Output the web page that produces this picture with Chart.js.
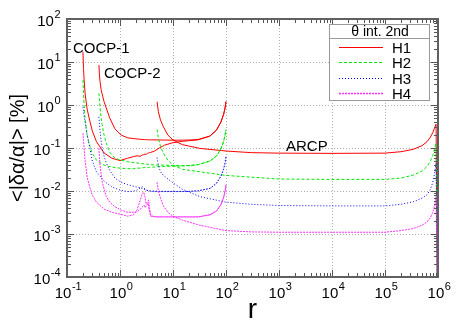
<!DOCTYPE html>
<html lang="en">
<head>
    <meta charset="UTF-8">
    <title>&lt;|δα/α|&gt; vs r</title>
    <script src="https://cdn.jsdelivr.net/npm/chart.js"></script>
    <style>
        html, body { margin: 0; padding: 0; background: #fff; }
        canvas { display: block; }
    </style>
</head>
<body>
    <canvas id="chartCanvas" width="467" height="327"></canvas>

    <script>
        // COCP-1 (starts at r = 0.2)
        const cocp1R  = [0.2, 0.205, 0.21, 0.22, 0.24, 0.27, 0.3, 0.36, 0.5, 0.7, 1.0, 1.4, 1.8, 2.1, 2.4, 2.65, 2.8, 2.95, 3.1, 3.3, 3.45, 3.6, 3.8, 4.5, 5.5, 7, 10, 15, 20, 30, 50, 66, 80, 90, 96, 100];
        const cocp1H1 = [17, 7, 4, 1.8, 0.8, 0.42, 0.25, 0.14, 0.077, 0.058, 0.051, 0.058, 0.063, 0.066, 0.064, 0.069, 0.07, 0.072, 0.071, 0.075, 0.077, 0.078, 0.079, 0.085, 0.1, 0.117, 0.133, 0.143, 0.148, 0.155, 0.19, 0.26, 0.4, 0.6, 0.85, 1.2];
        const cocp1H2 = [3.8, 1.8, 1.0, 0.45, 0.2, 0.11, 0.075, 0.052, 0.04, 0.036, 0.034, 0.033, 0.033, 0.034, 0.034, 0.035, 0.035, 0.035, 0.035, 0.035, 0.0355, 0.0355, 0.036, 0.036, 0.037, 0.037, 0.038, 0.038, 0.039, 0.041, 0.05, 0.065, 0.095, 0.14, 0.2, 0.27];
        const cocp1H3 = [0.91, 0.7, 0.55, 0.4, 0.2, 0.1, 0.05, 0.028, 0.017, 0.0125, 0.0105, 0.0097, 0.0099, 0.0105, 0.0118, 0.0125, 0.012, 0.0112, 0.0106, 0.0102, 0.0101, 0.01, 0.0099, 0.0098, 0.0097, 0.0097, 0.0097, 0.0097, 0.0098, 0.0101, 0.0115, 0.015, 0.022, 0.032, 0.045, 0.063];
        const cocp1H4 = [0.22, 0.15, 0.1, 0.05, 0.021, 0.012, 0.008, 0.0055, 0.0038, 0.0032, 0.0029, 0.0026, 0.0028, 0.0037, 0.006, 0.0089, 0.0095, 0.0075, 0.005, 0.0055, 0.0062, 0.004, 0.0027, 0.0025, 0.0025, 0.0025, 0.0025, 0.0025, 0.0025, 0.0025, 0.0028, 0.0034, 0.0048, 0.007, 0.01, 0.014];

        // COCP-2 (starts at r = 0.4)
        const cocp2R  = [0.4, 0.41, 0.42, 0.44, 0.46, 0.5, 0.55, 0.64, 0.8, 1.05, 1.4, 2, 2.4, 2.6, 2.85, 3.0, 3.2, 3.4, 3.55, 3.8, 5, 7, 10, 15, 20, 30, 50, 66, 80, 90, 96, 100];
        const cocp2H1 = [8.5, 5, 3.5, 2.3, 1.8, 1.2, 0.85, 0.5, 0.28, 0.2, 0.172, 0.163, 0.16, 0.158, 0.157, 0.156, 0.156, 0.155, 0.155, 0.155, 0.154, 0.153, 0.152, 0.152, 0.153, 0.158, 0.19, 0.26, 0.4, 0.6, 0.85, 1.2];
        const cocp2H2 = [1.87, 1.3, 0.9, 0.5, 0.35, 0.2, 0.13, 0.08, 0.058, 0.052, 0.048, 0.045, 0.044, 0.043, 0.043, 0.042, 0.042, 0.042, 0.041, 0.041, 0.04, 0.04, 0.039, 0.039, 0.039, 0.041, 0.05, 0.065, 0.095, 0.14, 0.2, 0.27];
        const cocp2H3 = [0.53, 0.35, 0.25, 0.15, 0.1, 0.065, 0.045, 0.03, 0.02, 0.016, 0.014, 0.0125, 0.012, 0.0115, 0.011, 0.0107, 0.0104, 0.0102, 0.0101, 0.01, 0.0099, 0.0098, 0.0098, 0.0098, 0.0098, 0.0101, 0.0115, 0.015, 0.022, 0.032, 0.045, 0.063];
        const cocp2H4 = [0.1, 0.06, 0.04, 0.025, 0.017, 0.011, 0.0075, 0.0055, 0.0043, 0.0036, 0.0032, 0.0032, 0.0037, 0.0042, 0.0047, 0.0041, 0.0047, 0.0052, 0.0036, 0.0026, 0.0025, 0.0025, 0.0025, 0.0025, 0.0025, 0.0025, 0.0028, 0.0034, 0.0048, 0.007, 0.01, 0.014];

        // ARCP (starts at r = 5, ends at r = 1e6)
        const arcpR  = [5, 5.3, 5.8, 6.6, 8, 10, 15, 32, 100, 300, 1e3, 1e4, 1e5, 2e5, 3.4e5, 5e5, 6.2e5, 7.2e5, 8e5, 8.6e5, 9.2e5, 1e6];
        const arcpH1 = [1.19, 0.7, 0.45, 0.31, 0.2, 0.153, 0.12, 0.098, 0.085, 0.078, 0.076, 0.075, 0.076, 0.082, 0.093, 0.113, 0.14, 0.18, 0.23, 0.29, 0.36, 1e-6];
        const arcpH2 = [0.27, 0.17, 0.11, 0.076, 0.052, 0.04, 0.032, 0.028, 0.023, 0.021, 0.019, 0.0186, 0.0186, 0.02, 0.0234, 0.029, 0.037, 0.05, 0.068, 0.095, 0.13, 1e-6];
        const arcpH3 = [0.06, 0.04, 0.028, 0.023, 0.019, 0.0155, 0.011, 0.0074, 0.0055, 0.0049, 0.0046, 0.0045, 0.0045, 0.0049, 0.0056, 0.0068, 0.0081, 0.011, 0.016, 0.025, 0.045, 1e-6];
        const arcpH4 = [0.016, 0.01, 0.0068, 0.0045, 0.0032, 0.0026, 0.0021, 0.0016, 0.0012, 0.00112, 0.0011, 0.0011, 0.0011, 0.0012, 0.00134, 0.0016, 0.0019, 0.0024, 0.0032, 0.0045, 0.0075, 1e-6];

        const seriesNames = ['H1', 'H2', 'H3', 'H4'];
        const xTickExps = [-1, 0, 1, 2, 3, 4, 5, 6];
        const yTickExps = [-4, -3, -2, -1, 0, 1, 2];

        // line style for each H
        const styles = [
            { color: '#ff0000', dash: [] },
            { color: '#00e800', dash: [3, 2] },
            { color: '#0000ff', dash: [1, 2] },
            { color: '#ff30ff', dash: [2, 1] }
        ];

        function makeSet(xs, ys, h) {
            return {
                label: seriesNames[h],
                data: xs.map((x, i) => ({ x: x, y: ys[i] })),
                borderColor: styles[h].color,
                borderDash: styles[h].dash,
                borderWidth: 1,
                pointRadius: 0,
                tension: 0,
                fill: false
            };
        }

        const datasets = [
            makeSet(cocp1R, cocp1H4, 3), makeSet(cocp2R, cocp2H4, 3), makeSet(arcpR, arcpH4, 3),
            makeSet(cocp1R, cocp1H3, 2), makeSet(cocp2R, cocp2H3, 2), makeSet(arcpR, arcpH3, 2),
            makeSet(cocp1R, cocp1H2, 1), makeSet(cocp2R, cocp2H2, 1), makeSet(arcpR, arcpH2, 1),
            makeSet(cocp1R, cocp1H1, 0), makeSet(cocp2R, cocp2H1, 0), makeSet(arcpR, arcpH1, 0)
        ];

        const FONT = '"Liberation Sans", Arial, Helvetica, sans-serif';

        // draws "10" with a raised exponent; align = 'right' or 'center'
        function powLabel(ctx, e, x, y, align) {
            const exp = String(e);
            ctx.font = '15px ' + FONT;
            const bw = ctx.measureText('10').width;
            ctx.font = '11px ' + FONT;
            const ew = ctx.measureText(exp).width;
            let left = align === 'right' ? x - bw - ew : x - (bw + ew) / 2;
            ctx.textAlign = 'left';
            ctx.textBaseline = 'middle';
            ctx.font = '15px ' + FONT;
            ctx.fillText('10', left, y + 3);
            ctx.font = '11px ' + FONT;
            ctx.fillText(exp, left + bw + 0.5, y - 4);
        }

        const decor = {
            id: 'decor',
            beforeDatasetsDraw(chart) {
                const { ctx, chartArea: a, scales: { x, y } } = chart;
                ctx.save();
                ctx.strokeStyle = '#b0b0b0';
                ctx.lineWidth = 1;
                ctx.setLineDash([1, 2]);
                xTickExps.forEach(e => {
                    const px = Math.round(x.getPixelForValue(Math.pow(10, e))) + 0.5;
                    ctx.beginPath(); ctx.moveTo(px, a.top); ctx.lineTo(px, a.bottom); ctx.stroke();
                });
                yTickExps.forEach(e => {
                    const py = Math.round(y.getPixelForValue(Math.pow(10, e))) + 0.5;
                    ctx.beginPath(); ctx.moveTo(a.left, py); ctx.lineTo(a.right, py); ctx.stroke();
                });
                ctx.restore();
            },
            afterDatasetsDraw(chart) {
                const { ctx, chartArea: a, scales: { x, y } } = chart;
                ctx.save();
                ctx.setLineDash([]);
                ctx.strokeStyle = '#555';
                ctx.lineWidth = 1;

                // tick marks on all four sides
                for (let e = -1; e <= 6; e++) {
                    for (let m = 1; m <= 9; m++) {
                        const v = m * Math.pow(10, e);
                        if (v > 1e6) break;
                        const px = Math.round(x.getPixelForValue(v)) + 0.5;
                        const len = m === 1 ? 7 : 4;
                        ctx.beginPath();
                        ctx.moveTo(px, a.bottom); ctx.lineTo(px, a.bottom - len);
                        ctx.moveTo(px, a.top); ctx.lineTo(px, a.top + len);
                        ctx.stroke();
                    }
                }
                for (let e = -4; e <= 2; e++) {
                    for (let m = 1; m <= 9; m++) {
                        const v = m * Math.pow(10, e);
                        if (v > 100) break;
                        const py = Math.round(y.getPixelForValue(v)) + 0.5;
                        const len = m === 1 ? 7 : 4;
                        ctx.beginPath();
                        ctx.moveTo(a.left, py); ctx.lineTo(a.left + len, py);
                        ctx.moveTo(a.right, py); ctx.lineTo(a.right - len, py);
                        ctx.stroke();
                    }
                }

                // frame
                ctx.lineWidth = 2;
                ctx.strokeStyle = '#606060';
                ctx.strokeRect(a.left, a.top, a.right - a.left, a.bottom - a.top);

                // tick labels
                ctx.fillStyle = '#000';
                xTickExps.forEach(e => powLabel(ctx, e, x.getPixelForValue(Math.pow(10, e)) + 1, a.bottom + 14, 'center'));
                yTickExps.forEach(e => powLabel(ctx, e, a.left - 7, y.getPixelForValue(Math.pow(10, e)), 'right'));

                // axis titles
                ctx.textAlign = 'center';
                ctx.textBaseline = 'middle';
                ctx.font = '28px ' + FONT;
                ctx.fillText('r', (a.left + a.right) / 2, a.bottom + 33);
                ctx.save();
                ctx.translate(18, (a.top + a.bottom) / 2);
                ctx.rotate(-Math.PI / 2);
                ctx.font = '20px ' + FONT;
                ctx.fillText('<|δα/α|> [%]', 0, 0);
                ctx.restore();

                // curve family labels
                ctx.font = '15px ' + FONT;
                ctx.textAlign = 'left';
                ctx.fillText('COCP-1', 73, 49);
                ctx.fillText('COCP-2', 104, 74);
                ctx.fillText('ARCP', 286, 147);

                // legend box
                const lx = 329, ly = 24, lw = 100, lh = 76;
                ctx.fillStyle = '#fff';
                ctx.fillRect(lx, ly, lw, lh);
                ctx.lineWidth = 1;
                ctx.strokeStyle = '#999';
                ctx.strokeRect(lx + 0.5, ly + 0.5, lw, lh);
                ctx.beginPath(); ctx.moveTo(lx, ly + 14.5); ctx.lineTo(lx + lw, ly + 14.5); ctx.stroke();
                ctx.fillStyle = '#000';
                ctx.textAlign = 'center';
                ctx.font = '14px ' + FONT;
                ctx.fillText('θ int. 2nd', lx + 51, ly + 8);
                ctx.textAlign = 'left';
                ctx.font = '15px ' + FONT;
                seriesNames.forEach((name, i) => {
                    const yy = Math.round(ly + 22.5 + i * 15.6) + 0.5;
                    ctx.setLineDash(styles[i].dash);
                    ctx.strokeStyle = styles[i].color;
                    ctx.lineWidth = i === 3 ? 1.5 : 1;
                    ctx.beginPath(); ctx.moveTo(lx + 10, yy); ctx.lineTo(lx + 54, yy); ctx.stroke();
                    ctx.fillText(name, lx + 63, yy + 1);
                });
                ctx.restore();
            }
        };

        new Chart(document.getElementById('chartCanvas').getContext('2d'), {
            type: 'line',
            data: { datasets: datasets },
            options: {
                responsive: false,
                animation: false,
                devicePixelRatio: 1,
                parsing: false,
                layout: { padding: { left: 67, right: 29, top: 19, bottom: 50 } },
                scales: {
                    x: { type: 'logarithmic', min: 0.1, max: 1e6, display: false },
                    y: { type: 'logarithmic', min: 1e-4, max: 100, display: false }
                },
                plugins: { legend: { display: false }, tooltip: { enabled: false } }
            },
            plugins: [decor]
        });
    </script>
</body>
</html>
